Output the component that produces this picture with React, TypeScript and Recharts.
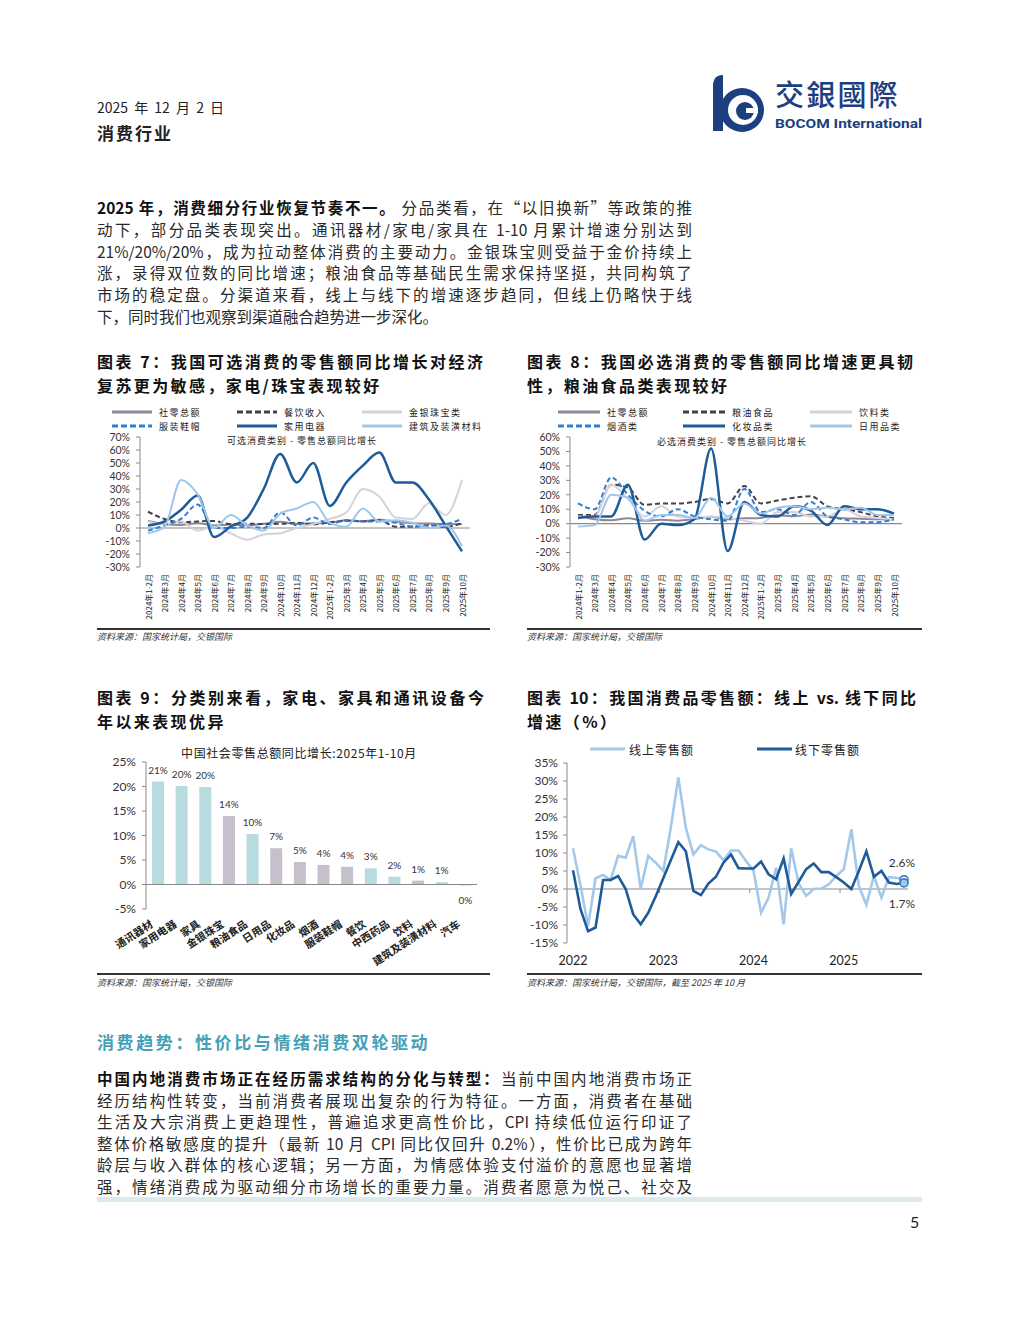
import React from 'react';
import { LineChart, Line, BarChart, Bar, XAxis, YAxis, ReferenceLine, LabelList, Cell } from 'recharts';

const CJK = '"Noto Sans CJK SC", "Noto Sans", sans-serif';
const NUM = 'Lato, "Noto Sans CJK SC", sans-serif';

// ---------- 图表 7 / 8：月度零售额同比（%） ----------
const months = [
  '2024年1-2月', '2024年3月', '2024年4月', '2024年5月', '2024年6月', '2024年7月', '2024年8月',
  '2024年9月', '2024年10月', '2024年11月', '2024年12月', '2025年1-2月', '2025年3月', '2025年4月',
  '2025年5月', '2025年6月', '2025年7月', '2025年8月', '2025年9月', '2025年10月',
];
const retailTotal = [5.5, 3.1, 2.3, 3.7, 2.0, 2.7, 2.1, 3.2, 4.8, 3.0, 3.7, 4.0, 5.9, 5.1, 6.4, 4.8, 3.7, 3.4, 3.0, 2.9];
// 可选消费
const catering = [12.5, 6.9, 4.4, 5.0, 5.4, 3.0, 3.3, 3.1, 3.2, 4.0, 2.7, 4.3, 5.6, 5.2, 5.9, 0.9, 1.1, 2.1, 0.9, 3.8];
const jewelry = [5, 3, 5, -2, 1, -4, -9, -5, -4, 0, 3, 7, 12, 30, 24, 8, 7, 19, 10, 37];
const apparel = [-2, 2, 7, 18, 0, 0, 1, 0, 12, 2, 8, 3, 6, 5, 5, 4, 1, 2, 3, 7];
const appliance = [2, 5, 14, 25, -7, 1, 8, 30, 57, 35, 50, 17, 35, 48, 58, 35, 35, 22, 2, -18];
const building = [-4, 1, 37, 26, 0, 10, 2, -2, 11, 15, 20, 4, 1, 15, 5, 6, 4, 0, 2, -14];
// 必选消费
const grain = [6, 6, 27, 25, 13, 14, 14, 15, 17, 14, 26, 14, 16, 18, 19, 12, 10, 8, 5, 4];
const beverage = [5, 5, 27, 17, 5, 12, 5, 4, 5, 4, 2, 0, 8, 8, 5, 5, 10, 5, 4, 3];
const tobacco = [14, 10, 32, 20, 9, 5, 10, 5, 3, 2, 24, 8, 10, 6, 15, 5, 3, 1, 1, 3];
const cosmetics = [4, 5, 5, 27, -11, 0, -1, 3, 52, -19, 15, 6, 5, 12, 9, -1, 12, 10, 10, 7];
const dailyUse = [-2, -1, 20, 18, 2, 6, 6, 4, 18, 5, 14, 7, 11, 12, 10, 11, 10, 11, 6, 6];

const ticks7 = [-30, -20, -10, 0, 10, 20, 30, 40, 50, 60, 70];
const ticks8 = [-30, -20, -10, 0, 10, 20, 30, 40, 50, 60];

// ---------- 图表 9：2025年1-10月 分类别 ----------
const categories9 = ['通讯器材', '家用电器', '家具', '金银珠宝', '粮油食品', '日用品', '化妆品', '烟酒', '服装鞋帽', '餐饮', '中西药品', '饮料', '建筑及装潢材料', '汽车'];
const growth9 = [21.0, 20.1, 19.9, 14.0, 10.3, 7.4, 4.6, 4.0, 3.6, 3.3, 1.6, 0.8, 0.5, -0.2];
const group9 = ['a', 'a', 'a', 'b', 'a', 'b', 'b', 'b', 'b', 'a', 'a', 'b', 'a', 'b'];
const ticks9 = [-5, 0, 5, 10, 15, 20, 25];

// ---------- 图表 10：线上 vs 线下（月度，2022年起） ----------
const years10 = ['2022', '2023', '2024', '2025'];
const online = [11.3, 1, -10.3, 3, 3.9, 2.5, 9.2, 8.7, 14.7, 0, 9.2, 7.3, 5, 17, 31, 17, 9.6, 12.2, 11, 10.4, 8, 10.7, 10.7, 7.8, 5, -6.6, -2.4, 5.9, -9.8, 11.3, 1.5, -1.9, 0, 0.1, 1.3, 3.6, 5.5, 16.6, 0.8, -4.4, 3.6, -2.4, 3.3, 3.1, 2.6];
const offline = [5.2, -5.6, -11.7, -10.7, 2.5, 2.5, 3.6, 0, -7, -9.8, -6.6, -2, 3, 8, 13, 10.5, -0.5, -1.7, 1.5, 3.4, 7.3, 9.6, 5.8, 5.7, 5.7, 7.6, 4.1, 2.7, 8.5, -1.4, 2, 5.5, 7.1, 4.7, 4.7, 3.3, 1.8, 0, 5, 10.5, 3.4, 5, 1.8, 1.4, 1.7];
const ticks10 = [-15, -10, -5, 0, 5, 10, 15, 20, 25, 30, 35];

type Series = { key: string; name: string; color: string; width: number; dash?: string };

const series7: Series[] = [
  { key: 'retailTotal', name: '社零总额', color: '#8f8798', width: 2 },
  { key: 'catering', name: '餐饮收入', color: '#46404b', width: 2, dash: '5 3' },
  { key: 'jewelry', name: '金银珠宝类', color: '#d6d2d9', width: 2 },
  { key: 'apparel', name: '服装鞋帽', color: '#2f7fd5', width: 2, dash: '5 3' },
  { key: 'appliance', name: '家用电器', color: '#1d5b9b', width: 2.5 },
  { key: 'building', name: '建筑及装潢材料', color: '#9fc7ec', width: 2 },
];
const series8: Series[] = [
  { key: 'retailTotal', name: '社零总额', color: '#8f8798', width: 2 },
  { key: 'grain', name: '粮油食品', color: '#46404b', width: 2, dash: '5 3' },
  { key: 'beverage', name: '饮料类', color: '#d6d2d9', width: 2 },
  { key: 'tobacco', name: '烟酒类', color: '#2f7fd5', width: 2, dash: '5 3' },
  { key: 'cosmetics', name: '化妆品类', color: '#1d5b9b', width: 2.5 },
  { key: 'dailyUse', name: '日用品类', color: '#9fc7ec', width: 2 },
];

const data7 = months.map((m, i) => ({
  month: m, retailTotal: retailTotal[i], catering: catering[i], jewelry: jewelry[i],
  apparel: apparel[i], appliance: appliance[i], building: building[i],
}));
const data8 = months.map((m, i) => ({
  month: m, retailTotal: retailTotal[i], grain: grain[i], beverage: beverage[i],
  tobacco: tobacco[i], cosmetics: cosmetics[i], dailyUse: dailyUse[i],
}));
const data9 = categories9.map((c, i) => ({ name: c, value: growth9[i], group: group9[i] }));
const data10 = online.map((v, i) => ({ i, online: v, offline: offline[i] }));

const pct = (v: number) => `${v}%`;

const MonthTick = (props: any) => {
  const { x, y, payload } = props;
  const ty = y + 7;
  return (
    <text x={x} y={ty} transform={`rotate(-90 ${x} ${ty})`} textAnchor="end" dominantBaseline="central"
      fontSize={8} fill="#222" fontFamily={CJK}>{payload.value}</text>
  );
};

const CatTick = (props: any) => {
  const { x, y, payload } = props;
  const ox = x - 4;
  const oy = y + 17;
  return (
    <text x={ox} y={oy} transform={`rotate(-33 ${ox} ${oy})`} textAnchor="end" fontSize={10.5}
      fontWeight={700} fill="#222" fontFamily={CJK}>{payload.value}</text>
  );
};

const YearTick = (props: any) => {
  const { x, y, payload } = props;
  return (
    <text x={x} y={y + 17} textAnchor="middle" dominantBaseline="central" fontSize={12.5} fill="#222" fontFamily={NUM}>
      {years10[Math.round(payload.value / 12)]}
    </text>
  );
};

const BarValueLabel = (props: any) => {
  const { x, y, width, height, value } = props;
  const top = Math.min(y, y + height);
  const bottom = Math.max(y, y + height);
  const ty = value < 0 ? bottom + 15 : top - 12;
  return (
    <text x={x + width / 2} y={ty} textAnchor="middle" dominantBaseline="central" fontSize={10} fill="#333" fontFamily={NUM}>
      {`${Math.round(value)}%`}
    </text>
  );
};

const lastIdx = online.length - 1;
const endDot = (fill: string, label: string, dy: number) => (props: any) => {
  const { cx, cy, index } = props;
  if (index !== lastIdx) return <g key={`d${index}`} />;
  return (
    <g key={`d${index}`}>
      <circle cx={cx} cy={cy} r={4} fill={fill} stroke="#2e75b6" strokeWidth={1.5} />
      <text x={cx - 2} y={cy + dy} textAnchor="middle" dominantBaseline="central" fontSize={12} fill="#333" fontFamily={NUM}>{label}</text>
    </g>
  );
};

const LegendGrid = ({ items, left, top, colX, lineLen }: { items: Series[]; left: number; top: number; colX: number[]; lineLen: number }) => (
  <svg style={{ position: 'absolute', left, top, overflow: 'visible' }} width={400} height={28}>
    {items.map((s, i) => {
      const lx = colX[i % 3];
      const ly = 7 + Math.floor(i / 3) * 14;
      return (
        <g key={s.key}>
          <line x1={lx} x2={lx + lineLen} y1={ly} y2={ly} stroke={s.color} strokeWidth={3} strokeDasharray={s.dash ? '6 3' : undefined} />
          <text x={lx + lineLen + 7} y={ly} dominantBaseline="central" fontSize={9} letterSpacing={1.5} fill="#222" fontFamily={CJK}>{s.name}</text>
        </g>
      );
    })}
  </svg>
);

const MonthlyLines = ({ data, series, ticks, left, width }: { data: any[]; series: Series[]; ticks: number[]; left: number; width: number }) => (
  <div style={{ position: 'absolute', left, top: 400 }}>
    <LineChart width={width} height={228} data={data} margin={{ top: 37, right: 20, bottom: 6, left: 0 }}>
      <XAxis dataKey="month" interval={0} axisLine={false} tickLine={false} tickSize={0} tickMargin={0} height={55}
        padding={{ left: 8, right: 8 }} tick={(p: any) => <MonthTick {...p} />} />
      <YAxis domain={[ticks[0], ticks[ticks.length - 1]]} ticks={ticks} interval={0} tickFormatter={pct} width={43}
        tick={{ fontSize: 10.5, fill: '#333', fontFamily: NUM }} tickSize={4} tickMargin={6}
        axisLine={{ stroke: '#8a8a8a' }} tickLine={{ stroke: '#8a8a8a' }} />
      <ReferenceLine y={0} stroke="#8a8a8a" strokeWidth={1.2} />
      {series.map((s) => (
        <Line key={s.key} dataKey={s.key} name={s.name} type="monotone" stroke={s.color} strokeWidth={s.width}
          strokeDasharray={s.dash} dot={false} activeDot={false} isAnimationActive={false} />
      ))}
    </LineChart>
  </div>
);

type Seg = [string, string];
const para1: Seg[] = [
  ['2025 年，消费细分行业恢复节奏不一。', ' 分品类看，在“以旧换新”等政策的推'],
  ['', '动下，部分品类表现突出。通讯器材/家电/家具在 1-10 月累计增速分别达到'],
  ['', '21%/20%/20%，成为拉动整体消费的主要动力。金银珠宝则受益于金价持续上'],
  ['', '涨，录得双位数的同比增速；粮油食品等基础民生需求保持坚挺，共同构筑了'],
  ['', '市场的稳定盘。分渠道来看，线上与线下的增速逐步趋同，但线上仍略快于线'],
  ['', '下，同时我们也观察到渠道融合趋势进一步深化。'],
];
const para2: Seg[] = [
  ['中国内地消费市场正在经历需求结构的分化与转型：', '当前中国内地消费市场正'],
  ['', '经历结构性转变，当前消费者展现出复杂的行为特征。一方面，消费者在基础'],
  ['', '生活及大宗消费上更趋理性，普遍追求更高性价比，CPI 持续低位运行印证了'],
  ['', '整体价格敏感度的提升（最新 10 月 CPI 同比仅回升 0.2%），性价比已成为跨年'],
  ['', '龄层与收入群体的核心逻辑；另一方面，为情感体验支付溢价的意愿也显著增'],
  ['', '强，情绪消费成为驱动细分市场增长的重要力量。消费者愿意为悦己、社交及'],
];

const Paragraph = ({ lines, top, gap, lastLeft }: { lines: Seg[]; top: number; gap: number; lastLeft: boolean }) => (
  <>
    {lines.map((l, k) => {
      const isLast = lastLeft && k === lines.length - 1;
      return (
        <div key={k} style={{
          position: 'absolute', left: 97, top: top + k * gap - 11, width: 595, height: 22, lineHeight: '22px',
          fontSize: 15.5, color: '#2a2a2a', textAlign: isLast ? 'left' : 'justify', textAlignLast: isLast ? 'left' : 'justify',
        } as React.CSSProperties}>
          {l[0] && <b style={{ fontWeight: 700, color: '#111' }}>{l[0]}</b>}{l[1]}
        </div>
      );
    })}
  </>
);

const Title = ({ left, top, first, second, firstWidth }: { left: number; top: number; first: string; second: string; firstWidth: number }) => (
  <>
    <div style={{ position: 'absolute', left, top: top - 12, width: firstWidth, height: 24, lineHeight: '24px', fontSize: 16, fontWeight: 700, color: '#111', textAlign: 'justify', textAlignLast: 'justify' } as React.CSSProperties}>{first}</div>
    <div style={{ position: 'absolute', left, top: top + 12, height: 24, lineHeight: '24px', fontSize: 16, fontWeight: 700, color: '#111', letterSpacing: 2.4, whiteSpace: 'nowrap' }}>{second}</div>
  </>
);

const Source = ({ left, top, text }: { left: number; top: number; text: string }) => (
  <div style={{ position: 'absolute', left, top: top - 7, fontSize: 9, lineHeight: '14px', fontStyle: 'italic', color: '#333', whiteSpace: 'nowrap' }}>{text}</div>
);

export default function App() {
  return (
    <div style={{ position: 'relative', width: 1020, height: 1320, background: '#fff', fontFamily: CJK, color: '#222', overflow: 'hidden' }}>
      <style>{'body{margin:0}'}</style>

      {/* header */}
      <div style={{ position: 'absolute', left: 97, top: 98, fontSize: 14, lineHeight: '18px', whiteSpace: 'nowrap', wordSpacing: 3 }}>2025 年 12 月 2 日</div>
      <div style={{ position: 'absolute', left: 97, top: 122, fontSize: 17, fontWeight: 700, lineHeight: '22px', letterSpacing: 2 }}>消费行业</div>
      <svg style={{ position: 'absolute', left: 0, top: 0 }} width={1020} height={140}>
        <path d="M713 84 Q714 75 723 75 L723 131 L713 131 Z" fill="#1c3f7f" />
        <circle cx={742} cy={110} r={22} fill="#1c3f7f" />
        <circle cx={743} cy={110} r={15} fill="#fff" />
        <circle cx={745} cy={111} r={9} fill="#1c3f7f" />
        <rect x={746} y={108} width={12} height={5} fill="#fff" />
        <text x={775} y={106} fontSize={29} fontWeight={500} fill="#1c3f7f" letterSpacing={2.2} fontFamily='"Noto Sans CJK TC", "Noto Sans CJK SC", sans-serif'>交銀國際</text>
        <text x={775} y={128} fontSize={13.5} fontWeight={700} fill="#1c3f7f" textLength={147} lengthAdjust="spacingAndGlyphs" fontFamily="Roboto, sans-serif">BOCOM International</text>
      </svg>

      <Paragraph lines={para1} top={207} gap={21.8} lastLeft />

      {/* 图表 7 / 8 */}
      <Title left={97} top={361} first="图表 7：我国可选消费的零售额同比增长对经济" second="复苏更为敏感，家电/珠宝表现较好" firstWidth={386} />
      <Title left={527} top={361} first="图表 8：我国必选消费的零售额同比增速更具韧" second="性，粮油食品类表现较好" firstWidth={386} />

      <LegendGrid items={series7} left={0} top={405} colX={[112, 237, 362]} lineLen={40} />
      <LegendGrid items={series8} left={0} top={405} colX={[558, 683, 810]} lineLen={42} />
      <MonthlyLines data={data7} series={series7} ticks={ticks7} left={97} width={393} />
      <MonthlyLines data={data8} series={series8} ticks={ticks8} left={527} width={395} />
      <div style={{ position: 'absolute', left: 152, top: 434, width: 300, textAlign: 'center', fontSize: 9, letterSpacing: 1, lineHeight: '14px' }}>可选消费类别 - 零售总额同比增长</div>
      <div style={{ position: 'absolute', left: 582, top: 435, width: 300, textAlign: 'center', fontSize: 9, letterSpacing: 1, lineHeight: '14px' }}>必选消费类别 - 零售总额同比增长</div>

      <div style={{ position: 'absolute', left: 97, top: 628, width: 393, height: 2, background: '#333' }} />
      <div style={{ position: 'absolute', left: 527, top: 628, width: 395, height: 2, background: '#333' }} />
      <Source left={97} top={637} text="资料来源：国家统计局，交银国际" />
      <Source left={527} top={637} text="资料来源：国家统计局，交银国际" />

      {/* 图表 9 / 10 */}
      <Title left={97} top={697} first="图表 9：分类别来看，家电、家具和通讯设备今" second="年以来表现优异" firstWidth={387} />
      <Title left={527} top={697} first="图表 10：我国消费品零售额：线上 vs. 线下同比" second="增速（%）" firstWidth={389} />

      <div style={{ position: 'absolute', left: 97, top: 740 }}>
        <BarChart width={393} height={233} data={data9} margin={{ top: 22, right: 13, bottom: 6, left: 5 }}>
          <XAxis dataKey="name" interval={0} axisLine={false} tickLine={false} tickSize={0} tickMargin={0} height={58}
            tick={(p: any) => <CatTick {...p} />} />
          <YAxis domain={[-5, 25]} ticks={ticks9} interval={0} tickFormatter={pct} width={44}
            tick={{ fontSize: 12, fill: '#333', fontFamily: NUM }} tickSize={4} tickMargin={6}
            axisLine={{ stroke: '#8a8a8a' }} tickLine={{ stroke: '#8a8a8a' }} />
          <Bar dataKey="value" barSize={12} isAnimationActive={false}>
            {data9.map((d) => (
              <Cell key={d.name} fill={d.group === 'a' ? '#b8dbe0' : '#c6bfcc'} />
            ))}
            <LabelList dataKey="value" content={(p: any) => <BarValueLabel {...p} />} />
          </Bar>
          <ReferenceLine y={0} stroke="#8a8a8a" strokeWidth={1.2} />
        </BarChart>
      </div>
      <div style={{ position: 'absolute', left: 149, top: 745, width: 300, textAlign: 'center', fontSize: 12, letterSpacing: 0.6, lineHeight: '16px', whiteSpace: 'nowrap' }}>中国社会零售总额同比增长:2025年1-10月</div>

      <div style={{ position: 'absolute', left: 527, top: 740 }}>
        <LineChart width={395} height={233} data={data10} margin={{ top: 23, right: 14, bottom: 6, left: 4 }}>
          <XAxis type="number" dataKey="i" domain={[0, lastIdx]} ticks={years10.map((_, k) => k * 12)} interval={0}
            axisLine={false} tickLine={false} tickSize={0} tickMargin={0} height={24} padding={{ left: 6, right: 4 }}
            tick={(p: any) => <YearTick {...p} />} />
          <YAxis domain={[-15, 35]} ticks={ticks10} interval={0} tickFormatter={pct} width={36}
            tick={{ fontSize: 12, fill: '#333', fontFamily: NUM }} tickSize={4} tickMargin={5}
            axisLine={{ stroke: '#8a8a8a' }} tickLine={{ stroke: '#8a8a8a' }} />
          <ReferenceLine y={0} stroke="#8a8a8a" strokeWidth={1.2} />
          {[11.5, 23.5, 35.5].map((b) => (
            <ReferenceLine key={b} segment={[{ x: b, y: 0 }, { x: b, y: -1.1 }]} stroke="#8a8a8a" />
          ))}
          <Line dataKey="online" name="线上零售额" type="linear" stroke="#a2c8ec" strokeWidth={2.6}
            dot={endDot('#dbeaf7', `${online[lastIdx]}%`, -17)} activeDot={false} isAnimationActive={false} />
          <Line dataKey="offline" name="线下零售额" type="linear" stroke="#1f5a99" strokeWidth={2.6}
            dot={endDot('#a2c8ec', `${offline[lastIdx]}%`, 21)} activeDot={false} isAnimationActive={false} />
        </LineChart>
      </div>
      <svg style={{ position: 'absolute', left: 0, top: 740, overflow: 'visible' }} width={1020} height={20}>
        <line x1={590} x2={625} y1={9} y2={9} stroke="#a2c8ec" strokeWidth={3} />
        <text x={629} y={9} dominantBaseline="central" fontSize={12} letterSpacing={1} fill="#222" fontFamily={CJK}>线上零售额</text>
        <line x1={757} x2={792} y1={9} y2={9} stroke="#1f5a99" strokeWidth={3} />
        <text x={795} y={9} dominantBaseline="central" fontSize={12} letterSpacing={1} fill="#222" fontFamily={CJK}>线下零售额</text>
      </svg>

      <div style={{ position: 'absolute', left: 97, top: 973, width: 393, height: 2, background: '#333' }} />
      <div style={{ position: 'absolute', left: 527, top: 973, width: 395, height: 2, background: '#333' }} />
      <Source left={97} top={983} text="资料来源：国家统计局，交银国际" />
      <Source left={527} top={983} text="资料来源：国家统计局，交银国际，截至 2025 年 10 月" />

      {/* 消费趋势 */}
      <div style={{ position: 'absolute', left: 97, top: 1031, fontSize: 17, fontWeight: 700, color: '#45a1b7', letterSpacing: 2.6, lineHeight: '22px', whiteSpace: 'nowrap' }}>消费趋势：性价比与情绪消费双轮驱动</div>
      <Paragraph lines={para2} top={1078} gap={21.6} lastLeft={false} />

      <div style={{ position: 'absolute', left: 97, top: 1197, width: 825, height: 5, background: '#dbeaee' }} />
      <div style={{ position: 'absolute', left: 910, top: 1212, fontSize: 16, lineHeight: '20px', fontFamily: NUM }}>5</div>
    </div>
  );
}
